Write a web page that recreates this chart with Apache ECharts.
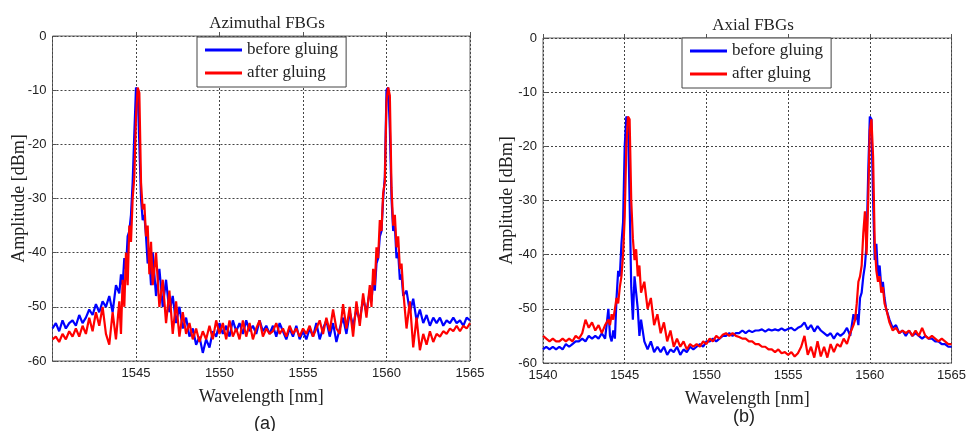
<!DOCTYPE html>
<html>
<head>
<meta charset="utf-8" />
<script src="https://cdn.jsdelivr.net/npm/echarts@6/dist/echarts.min.js"></script>
<style>
  html, body { margin: 0; padding: 0; background: #fff; }
  #chart { width: 969px; height: 431px; }
</style>
</head>
<body>
<div id="chart"></div>
<script>
// wavelength grid [nm], finer around the two Bragg peaks
var wl = [
  1540.0,
  1540.2, 1540.4, 1540.6, 1540.8, 1541.0,
  1541.2, 1541.4, 1541.6, 1541.8, 1542.0,
  1542.2, 1542.4, 1542.6, 1542.8, 1543.0,
  1543.2, 1543.4, 1543.6, 1543.8, 1544.0,
  1544.1, 1544.2, 1544.3, 1544.4, 1544.5, 1544.6, 1544.7, 1544.8, 1544.9, 1545.0,
  1545.1, 1545.2, 1545.3, 1545.4, 1545.5, 1545.6, 1545.7, 1545.8, 1545.9, 1546.0,
  1546.2, 1546.4, 1546.6, 1546.8, 1547.0,
  1547.2, 1547.4, 1547.6, 1547.8, 1548.0,
  1548.2, 1548.4, 1548.6, 1548.8, 1549.0,
  1549.2, 1549.4, 1549.6, 1549.8, 1550.0,
  1550.2, 1550.4, 1550.6, 1550.8, 1551.0,
  1551.2, 1551.4, 1551.6, 1551.8, 1552.0,
  1552.2, 1552.4, 1552.6, 1552.8, 1553.0,
  1553.2, 1553.4, 1553.6, 1553.8, 1554.0,
  1554.2, 1554.4, 1554.6, 1554.8, 1555.0,
  1555.2, 1555.4, 1555.6, 1555.8, 1556.0,
  1556.2, 1556.4, 1556.6, 1556.8, 1557.0,
  1557.2, 1557.4, 1557.6, 1557.8, 1558.0,
  1558.2, 1558.4, 1558.6, 1558.8, 1559.0,
  1559.1, 1559.2, 1559.3, 1559.4, 1559.5, 1559.6, 1559.7, 1559.8, 1559.9, 1560.0,
  1560.1, 1560.2, 1560.3, 1560.4, 1560.5, 1560.6, 1560.7, 1560.8, 1560.9, 1561.0,
  1561.2, 1561.4, 1561.6, 1561.8, 1562.0,
  1562.2, 1562.4, 1562.6, 1562.8, 1563.0,
  1563.2, 1563.4, 1563.6, 1563.8, 1564.0,
  1564.2, 1564.4, 1564.6, 1564.8, 1565.0
];

// (a) azimuthal FBGs [dBm]
var azBefore = [
  -54,
  -53, -54.5, -52.5, -54, -53,
  -52.5, -53.5, -51.5, -53, -52,
  -50.5, -51.5, -49.5, -51, -49,
  -50, -48, -51, -46, -47.5,
  -44, -46, -41, -43, -37, -36, -33, -27, -18, -9.5,
  -10, -20, -30, -34, -33, -37, -42, -41, -46, -40,
  -48, -43, -50, -45, -51,
  -48, -53, -50, -54, -52,
  -55.5, -54, -57, -55.5, -58.5,
  -56, -57.5, -54.5, -55.5, -53,
  -55, -53.5, -55.5, -52.5, -54.5,
  -53, -55, -52.5, -54.5, -53.5,
  -55, -52.5, -54.5, -53.5, -55,
  -53.5, -55.5, -53, -54.5, -56,
  -54, -55.5, -53.5, -56, -54.5,
  -56, -54, -55.5, -53, -56,
  -54, -52.5, -55.5, -53, -56.5,
  -54, -52, -55, -51, -53.5,
  -50.5, -52.5, -48.5, -51, -47,
  -49, -45, -47, -42, -41, -37, -36, -30, -26, -10,
  -9.5, -17, -30, -36, -35, -41, -40, -45, -44, -48,
  -47, -51, -48.5, -52.5, -50.5,
  -53, -51.5, -53.5, -52, -53,
  -52, -53.5, -52.5, -53, -52,
  -53, -52.5, -53.5, -52, -52.5
];
var azAfter = [
  -56,
  -55.5, -56.5, -55, -56, -54.5,
  -55.5, -54, -55.5, -53.5, -55,
  -52, -54.5, -51, -53.5, -50,
  -55, -57, -51, -56, -49,
  -55, -45, -50, -40, -46, -35, -38, -30, -26, -15,
  -9.5, -10.5, -27, -32, -31, -37, -35, -44, -38, -46,
  -40, -50, -45, -53, -47,
  -55, -49, -55.5, -51, -55,
  -53, -56, -54, -56.5, -54.5,
  -56, -53.5, -56, -52.5, -55,
  -53, -56, -52.5, -55.5, -54,
  -56, -52.5, -55.5, -53, -56,
  -54, -52.5, -55.5, -54, -55,
  -54.5, -53, -55, -54, -55.5,
  -53.5, -55, -54, -55.5, -54,
  -55, -53.5, -55.5, -54, -52.5,
  -55, -52, -54.5, -50.5, -54,
  -55, -49.5, -54, -50, -55.5,
  -49, -53.5, -47.5, -52, -46,
  -50, -43, -46, -39, -41, -34, -36, -29, -27, -12,
  -9.5, -11, -28, -35, -33, -39, -37, -43, -42, -47,
  -54, -49, -57.5, -52, -58,
  -55, -57, -54.5, -56.5, -55,
  -55.5, -54.5, -55, -54, -54.5,
  -53.5, -54.5, -53.5, -54, -53
];

// (b) axial FBGs [dBm]
var axBefore = [
  -57.5,
  -57, -57.5, -57, -57.5, -57,
  -57.5, -56.5, -57, -56.5, -56,
  -56, -55.5, -56, -55, -55.5,
  -55, -55.5, -54.5, -55.5, -50,
  -55, -56, -54, -55.5, -48, -43, -44, -38, -34, -20,
  -14.5, -15, -30, -46, -52, -44, -47, -50, -55, -52,
  -56, -57.5, -56, -58, -57,
  -58, -57, -58.5, -57.5, -58,
  -57, -58.5, -57.5, -58, -57,
  -57.5, -57, -56.5, -57, -56,
  -56, -55.5, -56, -55.5, -55,
  -55, -54.5, -55, -54.5, -54.5,
  -54, -54.5, -54, -54.3, -54,
  -54, -53.8, -54.2, -53.8, -54,
  -53.8, -54, -53.6, -54, -53.7,
  -53.5, -54, -53.5, -53.2, -52.5,
  -53.8, -53, -54.2, -53.2, -54,
  -54.5, -55, -54.5, -55.5, -54.5,
  -55, -54.5, -53.5, -55, -51,
  -52, -51, -53, -48, -47, -44, -42, -38, -25, -14.5,
  -15, -30, -41, -38, -44, -42, -46, -45, -48, -50,
  -52, -53.5, -53, -54.5, -54,
  -55, -54, -55, -54.5, -55,
  -55.5, -55, -55.5, -55.5, -56,
  -56, -56.5, -56.5, -57, -57
];
var axAfter = [
  -55,
  -55.5, -56, -55.5, -56, -56,
  -55.5, -56, -55.5, -56, -55,
  -55.5, -54.5, -52, -53.5, -52.5,
  -54, -53, -54.5, -53, -52,
  -53, -51, -52, -50, -48, -49, -46, -44, -40, -33,
  -20, -14.5, -15, -30, -37, -41, -39, -44, -42, -47,
  -45, -50, -48, -53, -51,
  -54.5, -52.5, -56, -54, -57,
  -55.5, -57, -56, -57.5, -56.5,
  -57, -56.5, -57, -56, -56.5,
  -55.5, -56, -55, -55.5, -54.8,
  -54.5, -55, -54.5, -55, -55.2,
  -55.5, -55.5, -56, -56, -56.5,
  -56.5, -57, -57, -57.5, -57.5,
  -58, -57.5, -58.2, -58, -58.5,
  -58, -58.8, -58.2, -57, -55,
  -58.5, -57, -59, -56, -58.8,
  -57, -59, -56.5, -58, -56.5,
  -57, -55.5, -56.5, -54.5, -53,
  -52, -49, -45, -44, -42, -36, -32, -40, -30, -17,
  -15, -22, -38, -43, -45, -44, -47, -46, -49, -50,
  -52.5, -54, -53.5, -54.5, -54,
  -54.5, -54, -55, -54, -55,
  -53.5, -55, -55.5, -55, -55.5,
  -56, -55.5, -56, -56.5, -56.5
];

var seriesNames = ['before gluing', 'after gluing'];
var panelTitles = ['Azimuthal FBGs', 'Axial FBGs'];
var panelTags = ['(a)', '(b)'];

function pairs(y) {
  return wl.map(function(x, i) { return [x, y[i]]; });
}

var serif = '"Liberation Serif", "Times New Roman", serif';
var sans = '"Liberation Sans", Arial, sans-serif';

function xAxisFor(gi, hideMin) {
  return {
    gridIndex: gi, type: 'value', min: 1540, max: 1565, interval: 5,
    name: 'Wavelength [nm]', nameLocation: 'middle', nameGap: 27,
    nameTextStyle: { fontFamily: serif, fontSize: 18, color: '#222' },
    axisLine: { show: false },
    axisTick: { inside: true, length: 4, lineStyle: { color: '#555' } },
    axisLabel: {
      fontFamily: sans, fontSize: 13, color: '#222', margin: 6, showMinLabel: !hideMin,
      formatter: function(v) { return String(v); }
    },
    splitLine: { show: true, lineStyle: { color: '#444', type: [2, 2], width: 1 } }
  };
}
function yAxisFor(gi, gap) {
  return {
    gridIndex: gi, type: 'value', min: -60, max: 0, interval: 10,
    name: 'Amplitude [dBm]', nameLocation: 'middle', nameGap: gap, nameMoveOverlap: false,
    nameTextStyle: { fontFamily: serif, fontSize: 18, color: '#222' },
    axisLine: { show: false },
    axisTick: { inside: true, length: 4, lineStyle: { color: '#555' } },
    axisLabel: { fontFamily: sans, fontSize: 13, color: '#222', margin: 6 },
    splitLine: { show: true, lineStyle: { color: '#444', type: [2, 2], width: 1 } }
  };
}
function legendFor(left, top) {
  return {
    data: seriesNames, orient: 'vertical', left: left, top: top,
    icon: 'rect', itemWidth: 37, itemHeight: 3, itemGap: 5,
    padding: [4, 8, 5, 8], borderColor: '#444', borderWidth: 1, backgroundColor: '#fff',
    textStyle: { fontFamily: serif, fontSize: 17, color: '#222', lineHeight: 18 }
  };
}
function lineSeries(name, color, xi, data) {
  return {
    name: name, type: 'line', xAxisIndex: xi, yAxisIndex: xi,
    data: pairs(data), showSymbol: false, color: color,
    lineStyle: { width: 2.2, color: color }
  };
}

var chart = echarts.init(document.getElementById('chart'));
chart.setOption({
  animation: false,
  color: ['#0000ff', '#ff0000'],
  title: [
    { text: panelTitles[0], left: 262, top: 10, textAlign: 'center', textStyle: { fontFamily: serif, fontSize: 17, fontWeight: 'normal', color: '#222' } },
    { text: panelTitles[1], left: 748, top: 12, textAlign: 'center', textStyle: { fontFamily: serif, fontSize: 17, fontWeight: 'normal', color: '#222' } },
    { text: panelTags[0], left: 260, top: 410, textAlign: 'center', textStyle: { fontFamily: sans, fontSize: 18, fontWeight: 'normal', color: '#222' } },
    { text: panelTags[1], left: 739, top: 403, textAlign: 'center', textStyle: { fontFamily: sans, fontSize: 18, fontWeight: 'normal', color: '#222' } }
  ],
  legend: [legendFor(197, 37), legendFor(682, 38)],
  grid: [
    { left: 52.5, right: 499, top: 36, bottom: 70, show: true, borderColor: '#666', borderWidth: 1 },
    { left: 543, right: 13, top: 38, bottom: 68, show: true, borderColor: '#666', borderWidth: 1 }
  ],
  xAxis: [xAxisFor(0, true), xAxisFor(1, false)],
  yAxis: [yAxisFor(0, 24), yAxisFor(1, 27)],
  series: [
    lineSeries(seriesNames[0], '#0000ff', 0, azBefore),
    lineSeries(seriesNames[1], '#ff0000', 0, azAfter),
    lineSeries(seriesNames[0], '#0000ff', 1, axBefore),
    lineSeries(seriesNames[1], '#ff0000', 1, axAfter)
  ]
});
</script>
</body>
</html>
